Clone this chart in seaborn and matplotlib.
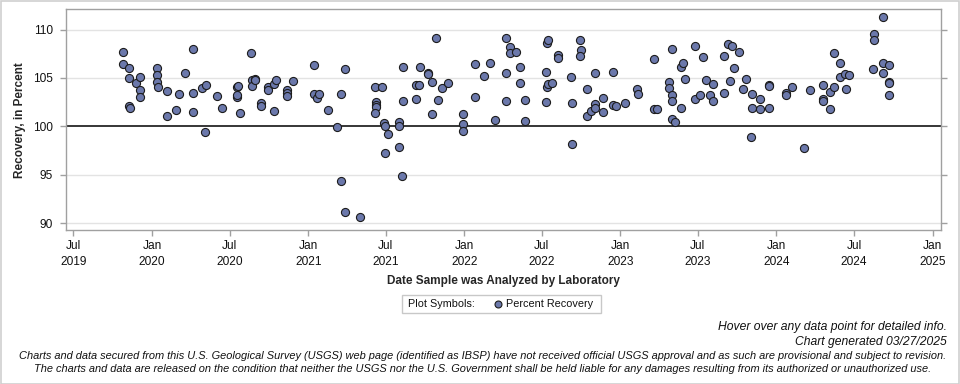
import matplotlib
matplotlib.use("Agg")
import matplotlib.pyplot as plt
from matplotlib.patches import Rectangle
from matplotlib.lines import Line2D
import seaborn as sns
import pandas as pd

analysis_dates = [
    "2019-10-24", "2019-10-24", "2019-11-07", "2019-11-07", "2019-11-07", "2019-11-11", "2019-11-25",
    "2019-12-05", "2019-12-05", "2019-12-05",
    "2020-01-13", "2020-01-13", "2020-01-13", "2020-01-15", "2020-02-06", "2020-02-06", "2020-02-25",
    "2020-03-05", "2020-03-19", "2020-04-07", "2020-04-07", "2020-04-07", "2020-04-28", "2020-05-07",
    "2020-05-05", "2020-05-31", "2020-06-14", "2020-07-17", "2020-07-17", "2020-07-19", "2020-07-21",
    "2020-07-26", "2020-08-19", "2020-08-21", "2020-08-23", "2020-08-28", "2020-08-30", "2020-09-11",
    "2020-09-11", "2020-09-29", "2020-09-29", "2020-10-13", "2020-10-17", "2020-10-13", "2020-11-13",
    "2020-11-13", "2020-11-13", "2020-11-25",
    "2021-01-13", "2021-01-13", "2021-01-22", "2021-01-27", "2021-02-17", "2021-03-10", "2021-03-19",
    "2021-03-19", "2021-03-28", "2021-03-28", "2021-05-03", "2021-06-07", "2021-06-23", "2021-06-09",
    "2021-06-09", "2021-06-09", "2021-06-07", "2021-06-27", "2021-06-30", "2021-07-07", "2021-06-30",
    "2021-08-02", "2021-08-02", "2021-08-02", "2021-08-07", "2021-08-11", "2021-08-11", "2021-09-09",
    "2021-09-11", "2021-09-16", "2021-09-20", "2021-10-07", "2021-10-07", "2021-10-18", "2021-10-18",
    "2021-10-27", "2021-11-01", "2021-11-10", "2021-11-24", "2021-12-28", "2021-12-28", "2021-12-28",
    "2022-01-25", "2022-01-25", "2022-02-15", "2022-03-03", "2022-03-14", "2022-04-08", "2022-04-08",
    "2022-04-08", "2022-04-19", "2022-04-19", "2022-05-03", "2022-05-12", "2022-05-12", "2022-05-24",
    "2022-05-24", "2022-07-12", "2022-07-12", "2022-07-14", "2022-07-16", "2022-07-14", "2022-07-16",
    "2022-07-26", "2022-08-09", "2022-08-09", "2022-09-07", "2022-09-09", "2022-09-11", "2022-09-28",
    "2022-09-30", "2022-09-28", "2022-10-16", "2022-10-16", "2022-10-25", "2022-11-04", "2022-11-04",
    "2022-11-04", "2022-11-22", "2022-11-22", "2022-12-14", "2022-12-14", "2022-12-21",
    "2023-01-11", "2023-02-10", "2023-02-12", "2023-03-20", "2023-03-29", "2023-03-22", "2023-04-26",
    "2023-04-26", "2023-05-01", "2023-05-03", "2023-05-03", "2023-05-03", "2023-05-10", "2023-05-24",
    "2023-05-24", "2023-05-29", "2023-06-01", "2023-06-24", "2023-06-24", "2023-07-06", "2023-07-13",
    "2023-07-20", "2023-07-29", "2023-08-05", "2023-08-05", "2023-08-31", "2023-08-31", "2023-09-11",
    "2023-09-20", "2023-09-16", "2023-09-25", "2023-10-05", "2023-10-16", "2023-10-23", "2023-11-02",
    "2023-11-06", "2023-11-06", "2023-11-23", "2023-11-23", "2023-12-14", "2023-12-14", "2023-12-14",
    "2024-01-23", "2024-01-23", "2024-02-06", "2024-03-07", "2024-03-19", "2024-04-19", "2024-04-19",
    "2024-04-19", "2024-05-05", "2024-05-05", "2024-05-16", "2024-05-16", "2024-05-30", "2024-05-30",
    "2024-06-11", "2024-06-20", "2024-06-13", "2024-08-14", "2024-08-16", "2024-08-16", "2024-09-06",
    "2024-09-06", "2024-09-06", "2024-09-20", "2024-09-20", "2024-09-20", "2024-09-20",
]

percent_recovery = [
    107.65, 106.44, 106.0, 104.96, 102.1, 101.86, 104.45,
    105.07, 103.72, 103.0,
    106.0, 105.3, 104.58, 104.03, 103.62, 101.03, 101.65,
    103.31, 105.48, 107.96, 103.41, 101.45, 103.93, 104.24,
    99.38, 103.1, 101.86, 104.03, 103.0, 103.2, 104.14,
    101.34, 107.55, 104.76, 104.14, 104.86, 104.76, 102.38,
    102.07, 104.03, 103.72, 104.34, 104.76, 101.55, 103.72,
    103.41, 103.1, 104.65,
    106.31, 103.31, 102.9, 103.31, 101.65, 99.9, 103.31,
    94.31, 105.89, 91.11, 90.59, 104.03, 104.03, 102.48,
    102.17, 101.96, 101.34, 100.31, 100.0, 99.17, 97.21,
    100.41, 100.0, 97.83, 94.83, 106.1, 102.59, 102.79,
    104.24, 104.24, 106.1, 105.48, 105.38, 104.55, 101.24,
    109.1, 102.69, 103.93, 104.45, 101.24, 100.21, 99.48,
    106.41, 103.0, 105.17, 106.51, 100.62, 109.1, 105.48,
    102.59, 108.17, 107.55, 107.65, 106.1, 104.45, 102.69,
    100.52, 105.58, 102.48, 108.58, 108.89, 104.03, 104.34,
    104.45, 107.34, 107.03, 105.07, 102.38, 98.14, 108.89,
    107.86, 107.24, 103.83, 101.03, 101.55, 105.48, 102.28,
    101.86, 102.9, 101.45, 105.58, 102.17, 102.07,
    102.38, 103.83, 103.31, 101.76, 101.76, 106.93, 104.55,
    103.93, 107.96, 103.2, 102.59, 100.72, 100.41, 101.86,
    106.1, 106.51, 104.86, 108.27, 102.79, 103.2, 107.14,
    104.76, 103.2, 104.34, 102.59, 107.24, 103.41, 108.48,
    108.27, 104.65, 106.0, 107.65, 103.83, 104.86, 98.86,
    103.31, 101.86, 102.79, 101.76, 104.24, 104.14, 101.86,
    103.41, 103.2, 104.03, 97.72, 103.72, 104.24, 102.79,
    102.59, 101.76, 103.52, 107.55, 104.03, 106.51, 105.07,
    105.38, 105.27, 103.83, 105.89, 109.51, 108.89, 111.27,
    106.51, 105.48, 106.31, 104.55, 104.45, 103.2,
]

y_ticks = [90, 95, 100, 105, 110]
x_tick_dates = ["2019-07-01", "2020-01-01", "2020-07-01", "2021-01-01", "2021-07-01",
                "2022-01-01", "2022-07-01", "2023-01-01", "2023-07-01", "2024-01-01",
                "2024-07-01", "2025-01-01"]

df = pd.DataFrame({"date": pd.to_datetime(analysis_dates), "recovery": percent_recovery})

sns.set_theme(style="white")
plt.rcParams["font.family"] = ["Liberation Sans", "DejaVu Sans"]

fig = plt.figure(figsize=(9.6, 3.84), dpi=100)
ax = fig.add_axes([65.7 / 960, 1 - 230 / 384, (940.7 - 65.7) / 960, (230 - 9.3) / 384])

grid_c = "#e3e3e3"
for yt in y_ticks:
    if yt != 100:
        ax.axhline(yt, color=grid_c, lw=1, zorder=0)
ax.axhline(100, color="black", lw=1.1, zorder=1)

sns.scatterplot(data=df, x="date", y="recovery", ax=ax, s=34, color="#6b78ab",
                edgecolor="#1c1c1c", linewidth=0.8, zorder=3, legend=False)

ax.set_xlim(pd.Timestamp("2019-06-13"), pd.Timestamp("2025-01-20"))
ax.set_ylim(89.28, 112.1)
ax.set_yticks(y_ticks)
ax.set_yticklabels([str(v) for v in y_ticks])
ticks = pd.to_datetime(x_tick_dates)
ax.set_xticks(ticks)
ax.set_xticklabels([t.strftime("%b") + "\n" + t.strftime("%Y") for t in ticks])

for sp in ax.spines.values():
    sp.set_color("#a0a0a0")
    sp.set_linewidth(1)
ax.tick_params(axis="both", which="major", direction="out", length=4, width=1,
               color="#a0a0a0", labelsize=8.6, labelcolor="#111111")
ax.tick_params(axis="y", right=True, left=True, labelright=False, pad=5)
ax.tick_params(axis="x", bottom=True, pad=3)
for lbl in ax.get_xticklabels():
    lbl.set_linespacing(1.45)

ax.set_xlabel("Date Sample was Analyzed by Laboratory", fontsize=8.5, fontweight="bold", labelpad=5)
ax.set_ylabel("Recovery, in Percent", fontsize=8.5, fontweight="bold", labelpad=5)

# legend box
lx0, ly0, lx1, ly1 = 402, 295, 601, 313
fig.patches.append(Rectangle((lx0 / 960, 1 - ly1 / 384), (lx1 - lx0) / 960, (ly1 - ly0) / 384,
                             transform=fig.transFigure, facecolor="white", edgecolor="#c8c8c8", lw=1))
fig.text(408 / 960, 1 - 304 / 384, "Plot Symbols:", fontsize=7.8, va="center", ha="left", color="#111111")
fig.lines.append(Line2D([498 / 960], [1 - 304 / 384], transform=fig.transFigure, marker="o",
                        markersize=5, markerfacecolor="#6b78ab", markeredgecolor="#1c1c1c",
                        markeredgewidth=0.8, linestyle="none"))
fig.text(506 / 960, 1 - 304 / 384, "Percent Recovery", fontsize=7.8, va="center", ha="left", color="#111111")

# footer
fig.text(947 / 960, 1 - 327 / 384, "Hover over any data point for detailed info.",
         fontsize=8.7, style="italic", ha="right", va="center", color="#111111")
fig.text(947 / 960, 1 - 342 / 384, "Chart generated 03/27/2025",
         fontsize=8.7, style="italic", ha="right", va="center", color="#111111")
fig.text(483 / 960, 1 - 356 / 384,
         "Charts and data secured from this U.S. Geological Survey (USGS) web page (identified as IBSP) have not received official USGS approval and as such are provisional and subject to revision.",
         fontsize=7.95, style="italic", ha="center", va="center", color="#111111")
fig.text(483 / 960, 1 - 369 / 384,
         "The charts and data are released on the condition that neither the USGS nor the U.S. Government shall be held liable for any damages resulting from its authorized or unauthorized use.",
         fontsize=7.95, style="italic", ha="center", va="center", color="#111111")

# outer frame
fig.patches.append(Rectangle((0.5 / 960, 0.5 / 384), 958.5 / 960, 382.5 / 384, transform=fig.transFigure,
                             facecolor="none", edgecolor="#cfcfcf", lw=1.2))

fig.savefig("out.png", dpi=100, facecolor="white")
